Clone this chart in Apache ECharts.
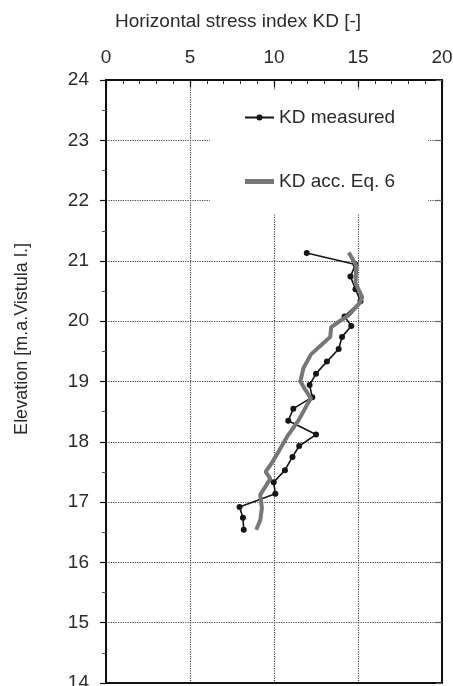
<!DOCTYPE html>
<html>
<head>
<meta charset="utf-8">
<script src="https://cdn.jsdelivr.net/npm/echarts@6/dist/echarts.min.js"></script>
<style>
html,body{margin:0;padding:0;background:#fff;}
#chart{width:453px;height:686px;}
</style>
</head>
<body>
<div id="chart"></div>
<script>
// KD measured (horizontal stress index) vs elevation
const kdMeasured = [11.95, 14.85, 14.55, 14.85, 15.15, 14.2, 14.6, 14.05, 13.85, 13.15, 12.5, 12.12, 12.28, 11.15, 10.85, 12.5, 11.5, 11.1, 10.65, 9.98, 10.08, 7.95, 8.15, 8.2];
const elevMeasured = [21.13, 20.94, 20.74, 20.53, 20.33, 20.08, 19.92, 19.74, 19.54, 19.33, 19.13, 18.94, 18.74, 18.55, 18.35, 18.12, 17.93, 17.75, 17.53, 17.33, 17.14, 16.92, 16.74, 16.54];
// KD according to Eq. 6
const kdEq6 = [14.45, 14.9, 14.85, 15.25, 15.1, 14.45, 13.75, 13.4, 13.35, 12.8, 12.2, 11.75, 11.57, 11.87, 12.2, 11.96, 11.47, 10.77, 10.3, 9.8, 9.5, 9.78, 9.18, 9.28, 9.18, 8.94];
const elevEq6 = [21.14, 20.92, 20.63, 20.4, 20.3, 20.1, 19.97, 19.9, 19.74, 19.6, 19.45, 19.22, 19.0, 18.86, 18.72, 18.61, 18.36, 18.08, 17.85, 17.62, 17.5, 17.39, 17.12, 16.9, 16.7, 16.54];

const seriesNames = ['KD measured', 'KD acc. Eq. 6'];
const xTitle = 'Horizontal stress index KD [-]';
const yTitle = 'Elevation [m.a.Vistula l.]';

const FONT = 'Liberation Sans, Arial, sans-serif';
const TXT = '#2b2b2b';

const chart = echarts.init(document.getElementById('chart'), null, {renderer: 'canvas'});
const gridDotted = {show: true, lineStyle: {type: 'dotted', color: '#444', width: 1.2}};

chart.setOption({
  animation: false,
  backgroundColor: '#fff',
  title: {
    text: xTitle,
    left: 115, top: 12, padding: 0,
    textStyle: {fontFamily: FONT, fontSize: 19, fontWeight: 'normal', color: TXT}
  },
  graphic: [{
    type: 'text',
    x: 22, y: 339,
    rotation: Math.PI / 2,
    style: {text: yTitle, fontFamily: FONT, fontSize: 18, fill: TXT, align: 'center', verticalAlign: 'middle'}
  }],
  legend: {
    orient: 'vertical',
    left: 210, top: 90,
    padding: [18, 33, 23, 35],
    itemGap: 45,
    itemWidth: 29, itemHeight: 14,
    symbolKeepAspect: true,
    backgroundColor: '#fff',
    textStyle: {fontFamily: FONT, fontSize: 19, color: TXT},
    data: [
      {name: seriesNames[0], icon: 'path://M0,6H29V8H0Z M11.5,7 A3,3 0 1,1 17.5,7 A3,3 0 1,1 11.5,7 Z'},
      {name: seriesNames[1], icon: 'path://M0,0H29V5H0Z'}
    ]
  },
  grid: {left: 106, right: 11, top: 80, bottom: 3, containLabel: false, outerBoundsMode: 'none'},
  xAxis: [{
    type: 'value', position: 'top', min: 0, max: 20, interval: 5,
    axisLine: {show: true, onZero: false, lineStyle: {color: '#111', width: 2}},
    axisTick: {show: true, inside: true, length: 7, lineStyle: {color: '#111', width: 1.2}},
    minorTick: {show: true, splitNumber: 5, length: 4, lineStyle: {color: '#333'}},
    axisLabel: {fontFamily: FONT, fontSize: 19, color: TXT, margin: 13},
    splitLine: gridDotted
  }, {
    type: 'value', position: 'bottom', min: 0, max: 20, interval: 5,
    axisLine: {show: true, onZero: false, lineStyle: {color: '#111', width: 2}},
    axisTick: {show: false}, axisLabel: {show: false}, splitLine: {show: false}
  }],
  yAxis: [{
    type: 'value', position: 'left', min: 14, max: 24, interval: 1,
    axisLine: {show: true, onZero: false, lineStyle: {color: '#111', width: 2}},
    axisTick: {show: true, inside: false, length: 6, lineStyle: {color: '#111', width: 1.2}},
    minorTick: {show: true, splitNumber: 2, length: 4, lineStyle: {color: '#555'}},
    axisLabel: {fontFamily: FONT, fontSize: 19, color: TXT, margin: 17},
    splitLine: gridDotted
  }, {
    type: 'value', position: 'right', min: 14, max: 24, interval: 1,
    axisLine: {show: true, onZero: false, lineStyle: {color: '#111', width: 2}},
    axisTick: {show: true, inside: true, length: 6, lineStyle: {color: '#666', width: 1.2}},
    axisLabel: {show: false}, splitLine: {show: false}
  }],
  series: [{
    name: seriesNames[0],
    type: 'line',
    xAxisIndex: 0, yAxisIndex: 0,
    data: elevMeasured.map((e, i) => [kdMeasured[i], e]),
    symbol: 'circle', symbolSize: 6, showSymbol: true,
    lineStyle: {color: '#151515', width: 1.6},
    itemStyle: {color: '#151515'},
    z: 2
  }, {
    name: seriesNames[1],
    type: 'line',
    xAxisIndex: 0, yAxisIndex: 0,
    data: elevEq6.map((e, i) => [kdEq6[i], e]),
    symbol: 'none', showSymbol: false,
    lineStyle: {color: '#777', width: 4},
    itemStyle: {color: '#777'},
    z: 3
  }]
});
</script>
</body>
</html>
